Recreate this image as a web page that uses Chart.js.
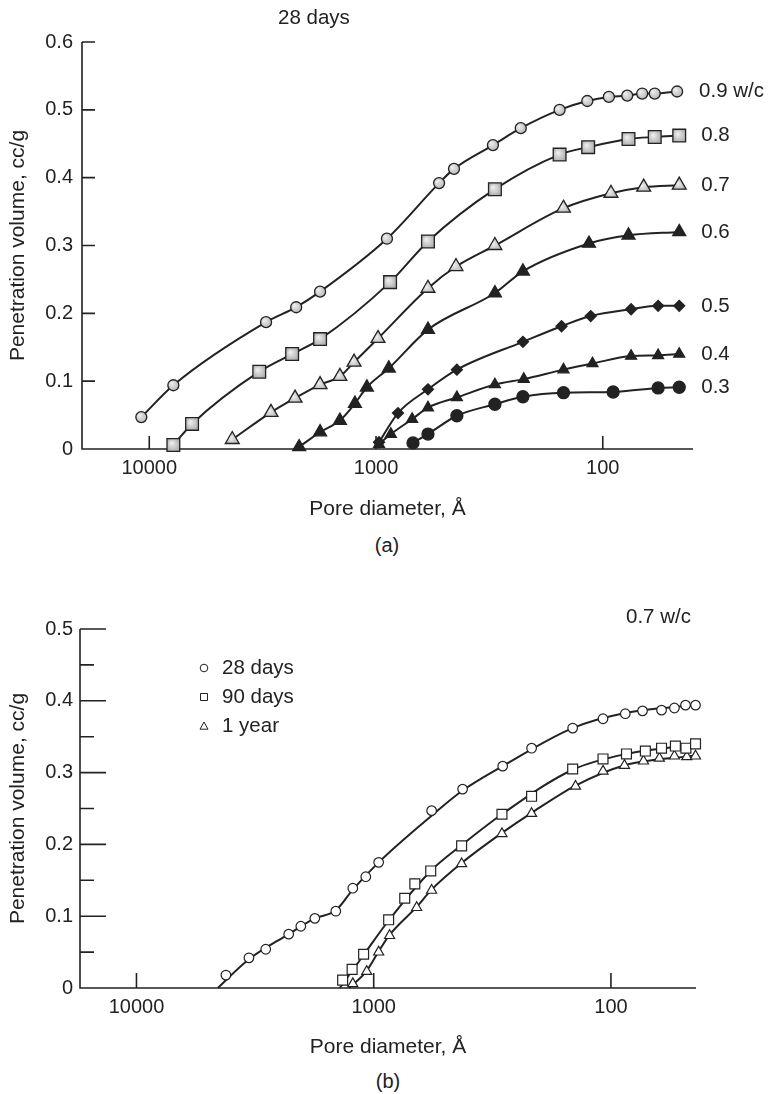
<!DOCTYPE html>
<html>
<head>
<meta charset="utf-8">
<script src="https://cdn.jsdelivr.net/npm/chart.js@4.4.1/dist/chart.umd.min.js"></script>
<style>
  body { margin: 0; background: #fff; width: 771px; height: 1094px; position: relative; overflow: hidden;
         font-family: "Liberation Sans", Arial, sans-serif; color: #222; }
  canvas { position: absolute; left: 0; }
  #chartA { top: 0; }
  #chartB { top: 560px; }
  .cap { position: absolute; width: 100px; font-size: 20px; line-height: 24px; text-align: center; }
</style>
</head>
<body>
<canvas id="chartA" width="771" height="530"></canvas>
<canvas id="chartB" width="771" height="508"></canvas>
<div class="cap" style="left:337px; top:533px">(a)</div>
<div class="cap" style="left:338px; top:1069px">(b)</div>

<script>
// (a) 28 days, one curve per w/c ratio: pore diameter (Å) and penetration volume (cc/g)
const d09 = [10840, 7830, 3055, 2250, 1765, 895, 527, 453, 305, 230, 155, 117, 94, 78, 67, 59, 47];
const v09 = [0.047, 0.094, 0.187, 0.209, 0.232, 0.310, 0.392, 0.413, 0.448, 0.473, 0.500, 0.513, 0.519, 0.521, 0.524, 0.524, 0.527];
const d08 = [7830, 6475, 3273, 2344, 1765, 867, 590, 299, 155, 116, 77, 59, 46];
const v08 = [0.006, 0.037, 0.114, 0.140, 0.162, 0.246, 0.306, 0.383, 0.434, 0.445, 0.457, 0.460, 0.462];
const d07 = [4305, 2905, 2275, 1765, 1443, 1250, 980, 590, 444, 299, 149, 92, 66, 46];
const v07 = [0.014, 0.054, 0.075, 0.095, 0.107, 0.128, 0.163, 0.237, 0.269, 0.300, 0.355, 0.377, 0.386, 0.389];
const d06 = [2183, 1765, 1443, 1239, 1097, 878, 590, 299, 225, 115, 77, 46];
const v06 = [0.003, 0.025, 0.042, 0.067, 0.091, 0.119, 0.176, 0.230, 0.262, 0.303, 0.315, 0.320];
const d05 = [970, 800, 590, 440, 225, 152, 113, 75, 57, 46];
const v05 = [0.010, 0.053, 0.088, 0.117, 0.158, 0.181, 0.196, 0.206, 0.211, 0.211];
const d04 = [970, 860, 693, 590, 440, 299, 223, 149, 111, 75, 57, 46];
const v04 = [0.007, 0.022, 0.044, 0.061, 0.076, 0.095, 0.103, 0.117, 0.126, 0.137, 0.138, 0.140];
const d03 = [687, 590, 440, 299, 225, 149, 90, 57, 46];
const v03 = [0.009, 0.022, 0.049, 0.066, 0.077, 0.083, 0.084, 0.090, 0.091];
const labelsA = ['0.9 w/c', '0.8', '0.7', '0.6', '0.5', '0.4', '0.3'];

// (b) 0.7 w/c at three ages: measured points and the drawn curves
const d28 = [4198, 3357, 2852, 2282, 2029, 1771, 1445, 1225, 1080, 953, 570, 422, 286, 216, 145, 108, 87, 73.6, 61.2, 54, 48.5, 44];
const v28 = [0.018, 0.042, 0.054, 0.075, 0.086, 0.097, 0.107, 0.139, 0.155, 0.175, 0.247, 0.277, 0.309, 0.334, 0.362, 0.375, 0.382, 0.386, 0.387, 0.390, 0.394, 0.394];
const d90 = [1352, 1233, 1103, 865, 740, 671, 575, 426, 288, 216, 145, 108, 86, 71.6, 61.2, 53.5, 48.3, 44];
const v90 = [0.011, 0.026, 0.047, 0.095, 0.125, 0.145, 0.163, 0.198, 0.242, 0.267, 0.305, 0.319, 0.326, 0.330, 0.334, 0.337, 0.334, 0.340];
const d1y = [1225, 1070, 953, 857, 659, 570, 426, 288, 216, 141, 108, 87.7, 72.9, 62.5, 54, 47.9, 44];
const v1y = [0.006, 0.023, 0.050, 0.073, 0.112, 0.136, 0.173, 0.215, 0.243, 0.281, 0.302, 0.310, 0.316, 0.320, 0.323, 0.322, 0.323];
const fd28 = [4540, 3357, 2282, 1771, 1445, 1225, 953, 570, 422, 286, 145, 87, 44];
const fv28 = [0, 0.040, 0.075, 0.097, 0.108, 0.137, 0.175, 0.240, 0.275, 0.309, 0.362, 0.383, 0.394];
const fd90 = [1390, 1103, 865, 575, 426, 288, 145, 86, 44];
const fv90 = [0, 0.046, 0.094, 0.163, 0.199, 0.242, 0.304, 0.326, 0.339];
const fd1y = [1270, 1070, 953, 857, 659, 570, 426, 288, 216, 141, 88, 44];
const fv1y = [0, 0.024, 0.051, 0.074, 0.113, 0.137, 0.174, 0.216, 0.244, 0.282, 0.310, 0.324];
const legendB = ['28 days', '90 days', '1 year'];

const xTicks = [10000, 1000, 100];
const yTicksA = [0, 0.1, 0.2, 0.3, 0.4, 0.5, 0.6];
const yTicksB = [0, 0.1, 0.2, 0.3, 0.4, 0.5];
const yMinorB = [0.05, 0.15, 0.25, 0.35, 0.45];

const INK = '#222';
const FONT = '"Liberation Sans", Arial, sans-serif';

const pts = (d, v) => d.map((x, i) => ({ x: x, y: v[i] }));

// light grey shading on the (a) markers
function shade(c) {
    const ch = c.chart;
    if (c.type !== 'data' || !c.parsed || !ch.scales.x || !ch.scales.y) return '#c8c8c8';
    const px = ch.scales.x.getPixelForValue(c.parsed.x);
    const py = ch.scales.y.getPixelForValue(c.parsed.y);
    if (!isFinite(px) || !isFinite(py)) return '#c8c8c8';
    const g = ch.ctx.createRadialGradient(px - 2, py - 2, 0, px, py, 8);
    g.addColorStop(0, '#f2f2f2');
    g.addColorStop(1, '#a6a6a6');
    return g;
}

function marker(ctx, style, x, y, r) {
    ctx.beginPath();
    if (style === 'circle') ctx.arc(x, y, r, 0, Math.PI * 2);
    else if (style === 'rect') ctx.rect(x - r, y - r, 2 * r, 2 * r);
    else { ctx.moveTo(x, y - r); ctx.lineTo(x + r, y + r * 0.8); ctx.lineTo(x - r, y + r * 0.8); ctx.closePath(); }
    ctx.fillStyle = '#fff';
    ctx.fill();
    ctx.stroke();
}

// axis lines, inward ticks, notes, end labels and legend
const framePlugin = {
    id: 'frame',
    beforeDatasetsDraw(chart, args, o) {
        const { ctx, chartArea: a, scales: { x, y } } = chart;
        ctx.save();
        ctx.strokeStyle = INK;
        ctx.lineWidth = 1.6;
        ctx.beginPath();
        ctx.moveTo(a.left, a.top);
        ctx.lineTo(a.left, a.bottom);
        ctx.lineTo(a.right, a.bottom);
        o.yMajor.forEach(v => { const p = y.getPixelForValue(v); ctx.moveTo(a.left, p); ctx.lineTo(a.left + o.majorLen, p); });
        o.yMinor.forEach(v => { const p = y.getPixelForValue(v); ctx.moveTo(a.left, p); ctx.lineTo(a.left + o.minorLen, p); });
        o.xMajor.forEach(v => { const p = x.getPixelForValue(v); ctx.moveTo(p, a.bottom); ctx.lineTo(p, a.bottom - o.xLen); });
        ctx.stroke();
        ctx.restore();
    },
    afterDraw(chart, args, o) {
        const ctx = chart.ctx;
        ctx.save();
        ctx.fillStyle = INK;
        ctx.font = '20.5px ' + FONT;
        ctx.textAlign = 'left';
        ctx.textBaseline = 'middle';
        (o.notes || []).forEach(n => ctx.fillText(n.text, n.x, n.y));
        chart.data.datasets.forEach((ds, i) => {
            if (!ds.endLabel) return;
            const m = chart.getDatasetMeta(i).data;
            const last = m[m.length - 1];
            ctx.fillText(ds.endLabel, last.x + 22, last.y);
        });
        if (o.legend) {
            ctx.strokeStyle = INK;
            ctx.lineWidth = 1;
            o.legend.forEach(l => {
                marker(ctx, l.style, l.x, l.y, l.r);
                ctx.fillStyle = INK;
                ctx.fillText(l.text, l.x + 18, l.y);
            });
        }
        ctx.restore();
    }
};

function lineSet(d, v, style, r, fill, label) {
    return {
        data: pts(d, v), showLine: true, borderColor: INK, borderWidth: 2,
        cubicInterpolationMode: 'monotone', clip: false,
        pointStyle: style, pointRadius: r, pointHoverRadius: r,
        pointBackgroundColor: fill, pointBorderColor: INK, pointBorderWidth: 1.3,
        endLabel: label
    };
}

function axes(xMin, xMax, yMax, yTicks, yWidth, xHeight, yPad) {
    return {
        x: {
            type: 'logarithmic', reverse: true, min: xMin, max: xMax,
            afterBuildTicks: s => { s.ticks = xTicks.map(v => ({ value: v })); },
            afterFit: s => { s.height = xHeight; s.paddingLeft = 0; s.paddingRight = 0; },
            grid: { display: false, drawTicks: false }, border: { display: false },
            ticks: { padding: 7, color: INK, font: { size: 20, family: FONT }, maxRotation: 0, autoSkip: false,
                     callback: v => String(v) },
            title: { display: true, text: 'Pore diameter, Å', color: INK, font: { size: 21, family: FONT },
                     padding: { top: 0, bottom: 8 } }
        },
        y: {
            min: 0, max: yMax,
            afterBuildTicks: s => { s.ticks = yTicks.map(v => ({ value: v })); },
            afterFit: s => { s.width = yWidth; s.paddingTop = 0; s.paddingBottom = 0; },
            grid: { display: false, drawTicks: false }, border: { display: false },
            ticks: { padding: yPad, color: INK, font: { size: 20, family: FONT },
                     callback: v => v === 0 ? '0' : v.toFixed(1) },
            title: { display: true, text: 'Penetration volume, cc/g', color: INK, font: { size: 21, family: FONT },
                     padding: { top: 6, bottom: 0 } }
        }
    };
}

function chartA() {
    const el = document.getElementById('chartA');
    new Chart(el.getContext('2d'), {
        type: 'scatter',
        data: {
            datasets: [
                lineSet(d09, v09, 'circle', 5.5, shade, labelsA[0]),
                lineSet(d08, v08, 'rect', 9, shade, labelsA[1]),
                lineSet(d07, v07, 'triangle', 8, shade, labelsA[2]),
                lineSet(d06, v06, 'triangle', 7.5, INK, labelsA[3]),
                lineSet(d05, v05, 'rectRot', 5.5, INK, labelsA[4]),
                lineSet(d04, v04, 'triangle', 6.3, INK, labelsA[5]),
                lineSet(d03, v03, 'circle', 6, INK, labelsA[6])
            ]
        },
        options: {
            responsive: false, animation: false,
            layout: { padding: { top: 42, right: 78, left: 0, bottom: 0 } },
            plugins: {
                legend: { display: false }, tooltip: { enabled: false },
                frame: {
                    yMajor: yTicksA, yMinor: [], majorLen: 13, minorLen: 0, xMajor: xTicks, xLen: 13,
                    notes: [{ text: '28 days', x: 278, y: 18 }]
                }
            },
            scales: axes(40, 19800, 0.6, yTicksA, 82, 81, 9)
        },
        plugins: [framePlugin]
    });
}

function chartB() {
    const el = document.getElementById('chartB');
    const open = (d, v, style, r) => ({
        data: pts(d, v), showLine: false, clip: false,
        pointStyle: style, pointRadius: r, pointHoverRadius: r,
        pointBackgroundColor: '#fff', pointBorderColor: INK, pointBorderWidth: 1.2
    });
    const fit = (d, v) => ({
        data: pts(d, v), showLine: true, pointRadius: 0, borderColor: INK, borderWidth: 2,
        cubicInterpolationMode: 'monotone', clip: false
    });
    new Chart(el.getContext('2d'), {
        type: 'scatter',
        data: {
            datasets: [
                open(d28, v28, 'circle', 4.8),
                open(d90, v90, 'rect', 7),
                open(d1y, v1y, 'triangle', 5.8),
                fit(fd28, fv28),
                fit(fd90, fv90),
                fit(fd1y, fv1y)
            ]
        },
        options: {
            responsive: false, animation: false,
            layout: { padding: { top: 69, right: 75, left: 0, bottom: 0 } },
            plugins: {
                legend: { display: false }, tooltip: { enabled: false },
                frame: {
                    yMajor: yTicksB, yMinor: yMinorB, majorLen: 26, minorLen: 14, xMajor: xTicks, xLen: 15,
                    notes: [{ text: '0.7 w/c', x: 626, y: 57 }],
                    legend: [
                        { style: 'circle', r: 3.8, x: 204, y: 108, text: legendB[0] },
                        { style: 'rect', r: 3.5, x: 204, y: 137, text: legendB[1] },
                        { style: 'tri', r: 4, x: 204, y: 166, text: legendB[2] }
                    ]
                }
            },
            scales: axes(43.8, 17300, 0.5, yTicksB, 80, 80, 7)
        },
        plugins: [framePlugin]
    });
}

document.addEventListener('DOMContentLoaded', function () {
    chartA();
    chartB();
});
</script>
</body>
</html>
